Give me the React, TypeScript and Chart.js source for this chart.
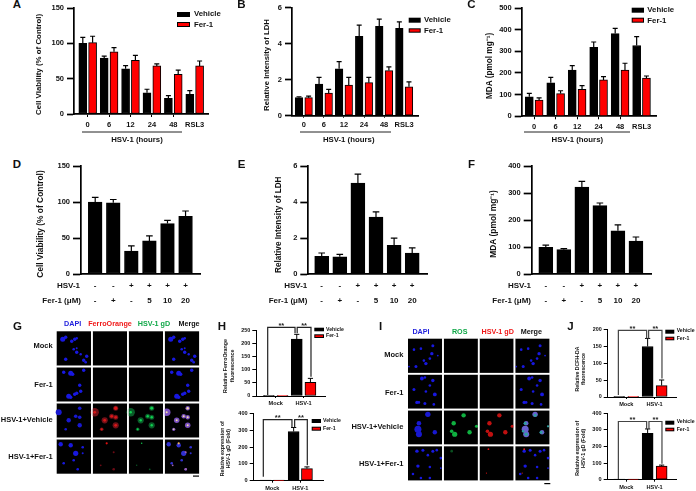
import React, { useEffect, useRef } from "react";
import { Chart, registerables } from "chart.js";
Chart.register(...registerables);

const FONT = '"Liberation Sans", Arial, sans-serif';
const RED = "#ff0000";

// ---------- data ----------
const hoursLabels = ["0", "6", "12", "24", "48", "RSL3"];
const aVehicle = [100, 79, 64, 30, 22, 28];
const aVehicleErr = [8.5, 3, 4.5, 5, 4, 5];
const aFer = [101, 88, 76, 68, 56, 68];
const aFerErr = [9, 6, 7, 3, 6, 7];
const bVehicle = [1.0, 1.75, 2.6, 4.4, 4.95, 4.85];
const bVehicleErr = [0.05, 0.37, 0.4, 0.62, 0.4, 0.35];
const bFer = [1.0, 1.25, 1.7, 1.83, 2.5, 1.6];
const bFerErr = [0.09, 0.21, 0.42, 0.29, 0.21, 0.28];
const cVehicle = [90, 155, 213, 318, 382, 327];
const cVehicleErr = [16, 25, 21, 25, 24, 41];
const cFer = [75, 105, 125, 168, 213, 177];
const cFerErr = [10, 13, 17, 15, 32, 9];

const hsvRow = ["-", "-", "+", "+", "+", "+"];
const ferRow = ["-", "+", "-", "5", "10", "20"];
const dValues = [100, 99, 32, 46, 70, 80];
const dErr = [6.5, 4.5, 7, 7, 4.5, 7.5];
const eValues = [1.0, 0.97, 5.05, 3.17, 1.6, 1.17];
const eErr = [0.18, 0.13, 0.5, 0.29, 0.4, 0.29];
const fValues = [99, 90, 322, 253, 160, 122];
const fErr = [8, 4, 21, 10, 22, 15];

const mockLabels = ["Mock", "HSV-1"];
const h1Vehicle = [0.5, 218];
const h1VehicleErr = [0, 18];
const h1Fer = [0.5, 52];
const h1FerErr = [0, 15.5];
const h2Vehicle = [0.5, 292];
const h2VehicleErr = [0, 24];
const h2Fer = [0.5, 72];
const h2FerErr = [0, 10];
const j1Vehicle = [2, 150];
const j1VehicleErr = [0, 24];
const j1Fer = [2, 34];
const j1FerErr = [0, 16.5];
const j2Vehicle = [1, 280];
const j2VehicleErr = [0, 26];
const j2Fer = [1, 82];
const j2FerErr = [0, 6];

// microscopy spots: [x, y, radius] in a cell of 36 units
type Blob = number[];
const gMock: Blob[] = [[6, 8, 2.5], [9, 6, 1.7], [18, 8, 1.7], [15, 10, 1.7], [20, 7, 1.3], [9, 28, 1.7], [20, 21, 1.7], [17, 18, 1.3], [27, 29, 1.7], [30, 25, 1.7], [29, 31, 1.3], [20, 17, 1], [24, 23, 1.2]];
const gFer: Blob[] = [[7, 5, 1.7], [14, 6, 2.5], [16, 7, 1.7], [27, 3, 1.7], [23, 18, 1.7], [24, 24, 1.7], [12, 29, 2.5], [14, 30, 1.7], [18, 27, 1.7], [20, 26, 1.7]];
const gVeh: Blob[] = [[2, 9, 3], [23, 5, 1.8], [12, 17, 2.2], [19, 13, 1.8], [23, 14, 1.8], [23, 22, 2.2], [9, 26, 1.3]];
const gVehCore: Blob[] = [[23, 5, 1.2], [12, 17, 1], [19, 13, 1], [23, 14, 1], [23, 22, 1], [9, 26, 0.8], [2, 9, 1]];
const gVfer: Blob[] = [[4, 5, 2.2], [14, 6, 2.2], [19, 14, 2.6], [26, 8, 1.3], [7, 24, 1.3], [17, 21, 1.3], [21, 30, 1.3], [26, 14, 1]];
const gVferRedBright: Blob[] = [[14, 4, 1.1]];
const gVferRedDim: Blob[] = [[21, 30, 1.3], [8, 26, 0.9], [21, 13, 1]];
const gVferGreenBright: Blob[] = [[13, 4, 0.7]];
const gVferGreenDim: Blob[] = [[8, 26, 0.7], [21, 30, 0.9]];
const iMock: Blob[] = [[6, 11, 1.3], [13, 10, 1.3], [25, 7, 1.5], [24, 15, 1.7], [22, 20, 1.3], [30, 17, 0.9], [18, 25, 1.7], [16, 22, 1.3], [8, 28, 1.5], [1, 28, 0.9]];
const iFer: Blob[] = [[14, 4, 1.9], [17, 3, 1.3], [25, 6, 1.7], [22, 11, 1.3], [6, 15, 1.5], [18, 17, 1.3], [27, 20, 1.9], [9, 28, 1.7], [11, 28, 1.3], [17, 29, 1.5], [26, 30, 1.3]];
const iVeh: Blob[] = [[20, 4, 2.7], [11, 13, 2.3], [10, 19, 3.5], [11, 24, 3], [27, 22, 2.2]];
const iVehSignal: Blob[] = [[20, 5, 2.2], [10, 13, 2.2], [8, 21, 1.8], [11, 24, 2.6], [26, 22, 2.2], [33, 16, 1.6]];
const iVfer: Blob[] = [[9, 5, 1.7], [15, 4, 1.5], [20, 9, 1.3], [25, 5, 1.5], [29, 4, 1.3], [33, 12, 1.3], [10, 20, 1.7], [22, 21, 1.3], [5, 28, 1.3], [13, 32, 1.3], [22, 32, 1.3], [33, 22, 0.9]];
const iVferGreen: Blob[] = [[8, 5, 1.3]];
const iVferRed: Blob[] = [[9, 3, 0.9], [7, 27, 0.6]];

// ---------- drawing spec ----------
type T = { t: string; x: number; y: number; s?: number; c?: string; a?: CanvasTextAlign; rot?: boolean; w?: string };
type Leg = { r0: number; r1: number; v: number[]; f: number[]; tx: number; vt: number; ft: number; s: number };
type Br = { x0: number; x1: number; y: number; yl: number; yr: number };
type Ser = { values: number[]; errs: number[]; color: string; off: number };
type Panel = {
  box: number[]; plot: number[]; yMax: number; yStep: number; yTick: number; yWidth: number; yFont: number;
  center: number; unit: number; labels: (string | string[])[]; xFont: number; xPad: number; xTick: number; xLineHeight?: number;
  series: Ser[]; barW: number; cap: number; errW: number; texts: T[]; lines?: number[][]; legend?: Leg; brackets?: Br[]; brColor?: string;
};

function drawText(ctx: CanvasRenderingContext2D, box: number[], it: T) {
  ctx.save();
  ctx.fillStyle = it.c || "#111";
  ctx.font = `${it.w || "bold"} ${it.s || 8}px ${FONT}`;
  ctx.textAlign = it.a || "center";
  ctx.textBaseline = "middle";
  ctx.translate(it.x - box[0], it.y - box[1]);
  if (it.rot) ctx.rotate(-Math.PI / 2);
  ctx.fillText(it.t, 0, 0);
  ctx.restore();
}

function overlay(p: Panel) {
  return {
    id: "overlay",
    afterDraw(chart: any) {
      const ctx: CanvasRenderingContext2D = chart.ctx;
      const xs = chart.scales.x, ys = chart.scales.y;
      ctx.save();
      ctx.strokeStyle = "#000";
      ctx.lineWidth = p.errW;
      p.series.forEach((s, si) => {
        const meta = chart.getDatasetMeta(si);
        s.errs.forEach((e, i) => {
          if (!e) return;
          const x = meta.data[i].x;
          const y0 = ys.getPixelForValue(s.values[i]);
          const y1 = ys.getPixelForValue(s.values[i] + e);
          ctx.beginPath();
          ctx.moveTo(x, y0); ctx.lineTo(x, y1);
          ctx.moveTo(x - p.cap, y1); ctx.lineTo(x + p.cap, y1);
          ctx.stroke();
        });
      });
      (p.brackets || []).forEach((b) => {
        const X0 = xs.getPixelForValue(b.x0), X1 = xs.getPixelForValue(b.x1);
        const Y = ys.getPixelForValue(b.y);
        ctx.strokeStyle = p.brColor || "#222";
        ctx.lineWidth = 1.2;
        ctx.beginPath();
        ctx.moveTo(X0, ys.getPixelForValue(b.yl));
        ctx.lineTo(X0, Y); ctx.lineTo(X1, Y);
        ctx.lineTo(X1, ys.getPixelForValue(b.yr));
        ctx.stroke();
        ctx.fillStyle = "#222";
        ctx.font = `bold 7.5px ${FONT}`;
        ctx.textAlign = "center";
        ctx.textBaseline = "middle";
        ctx.fillText("**", (X0 + X1) / 2, Y - 1.5);
      });
      (p.lines || []).forEach((l) => {
        ctx.strokeStyle = "#222";
        ctx.lineWidth = 1;
        ctx.beginPath();
        ctx.moveTo(l[0] - p.box[0], l[1] - p.box[1]);
        ctx.lineTo(l[2] - p.box[0], l[1] - p.box[1]);
        ctx.stroke();
      });
      if (p.legend) {
        const L = p.legend;
        ctx.fillStyle = "#000";
        ctx.fillRect(L.r0 - p.box[0], L.v[0] - p.box[1], L.r1 - L.r0, L.v[1] - L.v[0]);
        ctx.fillRect(L.r0 - p.box[0], L.f[0] - p.box[1], L.r1 - L.r0, L.f[1] - L.f[0]);
        ctx.fillStyle = RED;
        ctx.fillRect(L.r0 + 1 - p.box[0], L.f[0] + 1 - p.box[1], L.r1 - L.r0 - 2, L.f[1] - L.f[0] - 2);
        drawText(ctx, p.box, { t: "Vehicle", x: L.tx, y: L.vt, s: L.s, a: "left" });
        drawText(ctx, p.box, { t: "Fer-1", x: L.tx, y: L.ft, s: L.s, a: "left" });
      }
      p.texts.forEach((t) => drawText(ctx, p.box, t));
      ctx.restore();
    },
  };
}

function barConfig(p: Panel) {
  const [x0, y0, x1, y1] = p.box;
  const [l, t, r, b] = p.plot;
  return {
    type: "bar",
    data: {
      datasets: p.series.map((s) => ({
        data: s.values.map((v, i) => ({ x: i + s.off, y: v })),
        backgroundColor: s.color,
        borderColor: "#000",
        borderWidth: 1,
        borderSkipped: false,
        barThickness: p.barW,
        grouped: false,
      })),
    },
    options: {
      responsive: false,
      animation: false,
      events: [],
      layout: { padding: { top: t - y0, right: x1 - r, left: 0, bottom: 0 } },
      plugins: { legend: { display: false }, tooltip: { enabled: false } },
      scales: {
        x: {
          type: "linear",
          offset: false,
          min: (l - p.center) / p.unit,
          max: (r - p.center) / p.unit,
          afterFit: (s: any) => { s.height = y1 - b; },
          border: { display: true, width: p.yWidth, color: "#000" },
          grid: {
            offset: false,
            display: true, drawOnChartArea: false, drawTicks: p.xTick > 0, tickLength: p.xTick, tickWidth: 1,
            tickColor: (c: any) => (c.tick && c.tick.value === 5 ? "rgba(0,0,0,0)" : "#000"),
          },
          ticks: {
            stepSize: 1, includeBounds: false, autoSkip: false, maxRotation: 0, minRotation: 0, padding: p.xPad, color: "#111",
            font: { family: FONT, weight: "bold", size: p.xFont, lineHeight: p.xLineHeight || 1.2 },
            callback: (v: number) => p.labels[v] ?? "",
          },
        },
        y: {
          min: 0,
          max: p.yMax,
          afterFit: (s: any) => { s.width = l - x0; },
          border: { display: true, width: p.yWidth, color: "#000" },
          grid: { display: true, drawOnChartArea: false, drawTicks: true, tickLength: p.yTick, tickWidth: p.yWidth, tickColor: "#000" },
          ticks: { stepSize: p.yStep, padding: p.yTick > 5 ? 3 : 2, color: "#111", font: { family: FONT, weight: "bold", size: p.yFont } },
        },
      },
    },
    plugins: [overlay(p)],
  };
}

const two = (v: number[], ve: number[], f: number[], fe: number[], off: number): Ser[] => [
  { values: v, errs: ve, color: "#000", off: -off },
  { values: f, errs: fe, color: RED, off },
];
const one = (v: number[], e: number[]): Ser[] => [{ values: v, errs: e, color: "#000", off: 0 }];
const rows = hsvRow.map((h, i) => [h, ferRow[i]]);

const panels: Panel[] = [
  { box: [30, 0, 230, 150], plot: [74, 8, 208, 114], yMax: 150, yStep: 50, yTick: 7, yWidth: 1.7, yFont: 7.5, center: 87.7, unit: 21.4, labels: hoursLabels, xFont: 7.5, xPad: 3, xTick: 3, series: two(aVehicle, aVehicleErr, aFer, aFerErr, 0.229), barW: 8, cap: 2.5, errW: 1.2,
    texts: [{ t: "Cell Viability (% of Control)", x: 39, y: 64.5, s: 7.9, rot: true }, { t: "HSV-1 (hours)", x: 137, y: 140, s: 7.8 }], lines: [[82, 132, 182]],
    legend: { r0: 177, r1: 190, v: [12, 17], f: [22, 27], tx: 194, vt: 13.5, ft: 24.7, s: 7.8 } },
  { box: [258, 0, 460, 150], plot: [292, 7.3, 418, 115.7], yMax: 6, yStep: 2, yTick: 7, yWidth: 1.7, yFont: 7.5, center: 303.8, unit: 20.07, labels: hoursLabels, xFont: 7.5, xPad: 3, xTick: 2, series: two(bVehicle, bVehicleErr, bFer, bFerErr, 0.24), barW: 7.6, cap: 2.5, errW: 1.2,
    texts: [{ t: "Relative Intensity of LDH", x: 266.7, y: 65, s: 7.8, rot: true }, { t: "HSV-1 (hours)", x: 348.7, y: 139.7, s: 7.8 }], lines: [[300, 132, 391]],
    legend: { r0: 408.7, r1: 420.7, v: [17.7, 22.7], f: [28.3, 32.7], tx: 424, vt: 20, ft: 30.7, s: 7.8 } },
  { box: [482, 0, 696, 150], plot: [521.7, 8, 656, 116.3], yMax: 500, yStep: 100, yTick: 7, yWidth: 1.7, yFont: 7.5, center: 534.2, unit: 21.47, labels: hoursLabels, xFont: 7.5, xPad: 3, xTick: 3, series: two(cVehicle, cVehicleErr, cFer, cFerErr, 0.228), barW: 8, cap: 2.5, errW: 1.2,
    texts: [{ t: "MDA (pmol mg⁻¹)", x: 490, y: 66, s: 8.2, rot: true }, { t: "HSV-1 (hours)", x: 577.3, y: 139.7, s: 7.8 }], lines: [[524, 132, 630]],
    legend: { r0: 631.7, r1: 644, v: [7.7, 12.7], f: [17.7, 22.7], tx: 647.3, vt: 10, ft: 21, s: 7.8 } },
  { box: [30, 158, 230, 312], plot: [81, 166, 200, 274], yMax: 150, yStep: 50, yTick: 8, yWidth: 1.7, yFont: 7.5, center: 95.2, unit: 18.07, labels: rows, xFont: 8, xPad: 4, xTick: 0, xLineHeight: 1.9, series: one(dValues, dErr), barW: 13.7, cap: 3.3, errW: 1.2,
    texts: [{ t: "Cell Viability (% of Control)", x: 41, y: 224, s: 8.4, rot: true }, { t: "HSV-1", x: 80, y: 285.7, s: 8, a: "right" }, { t: "Fer-1 (μM)", x: 81, y: 301, s: 8, a: "right" }] },
  { box: [255, 158, 460, 312], plot: [308.3, 166, 427.3, 274.3], yMax: 6, yStep: 2, yTick: 8, yWidth: 1.7, yFont: 7.5, center: 321.7, unit: 18.1, labels: rows, xFont: 8, xPad: 4, xTick: 0, xLineHeight: 1.9, series: one(eValues, eErr), barW: 14, cap: 3.3, errW: 1.2,
    texts: [{ t: "Relative Intensity of LDH", x: 279, y: 224.7, s: 8.2, rot: true }, { t: "HSV-1", x: 307.3, y: 285.7, s: 8, a: "right" }, { t: "Fer-1 (μM)", x: 307.3, y: 301, s: 8, a: "right" }] },
  { box: [480, 158, 696, 312], plot: [531.7, 166, 651.3, 274], yMax: 400, yStep: 100, yTick: 8, yWidth: 1.7, yFont: 7.5, center: 545.8, unit: 18.03, labels: rows, xFont: 8, xPad: 4, xTick: 0, xLineHeight: 1.9, series: one(fValues, fErr), barW: 14, cap: 3.3, errW: 1.2,
    texts: [{ t: "MDA (pmol mg⁻¹)", x: 493.3, y: 224, s: 8.4, rot: true }, { t: "HSV-1", x: 531, y: 285.7, s: 8, a: "right" }, { t: "Fer-1 (μM)", x: 531, y: 301, s: 8, a: "right" }] },
  { box: [215, 316, 350, 408], plot: [256.3, 330.7, 325.7, 396], yMax: 250, yStep: 50, yTick: 4, yWidth: 1, yFont: 5.4, center: 275.7, unit: 27.9, labels: mockLabels, xFont: 5.6, xPad: 2, xTick: 2, series: two(h1Vehicle, h1VehicleErr, h1Fer, h1FerErr, 0.245), barW: 11, cap: 2.6, errW: 1,
    texts: [{ t: "Relative FerroOrange", x: 225.7, y: 366, s: 5.3, rot: true }, { t: "fluorescence", x: 232.3, y: 366, s: 5.3, rot: true }],
    brackets: [{ x0: -0.287, x1: 0.693, y: 263, yl: 4, yr: 240 }, { x0: 0.77, x1: 1.265, y: 263, yl: 240, yr: 74 }],
    legend: { r0: 314.3, r1: 324, v: [327.7, 331.3], f: [334.3, 338], tx: 326, vt: 329.3, ft: 336, s: 5.2 } },
  { box: [215, 408, 350, 491], plot: [253.7, 412.3, 323.3, 480.7], yMax: 400, yStep: 100, yTick: 4, yWidth: 1, yFont: 5.6, center: 272.3, unit: 28, labels: mockLabels, xFont: 5.6, xPad: 2, xTick: 2, series: two(h2Vehicle, h2VehicleErr, h2Fer, h2FerErr, 0.2375), barW: 11, cap: 2.6, errW: 1,
    texts: [{ t: "Relative expression of", x: 222.3, y: 448.7, s: 5.2, rot: true }, { t: "HSV-1 gD (Fold)", x: 228.3, y: 448.7, s: 5.2, rot: true }],
    brackets: [{ x0: -0.321, x1: 0.702, y: 363, yl: 23, yr: 316 }, { x0: 0.798, x1: 1.25, y: 363, yl: 316, yr: 92 }],
    legend: { r0: 311.7, r1: 321, v: [419, 423], f: [426.7, 430.7], tx: 323, vt: 421, ft: 428.7, s: 5.2 } },
  { box: [570, 316, 696, 408], plot: [607.7, 329.7, 676.7, 397], yMax: 200, yStep: 50, yTick: 4, yWidth: 1, yFont: 5.4, center: 626.3, unit: 28.33, labels: mockLabels, xFont: 5.6, xPad: 2, xTick: 2, series: two(j1Vehicle, j1VehicleErr, j1Fer, j1FerErr, 0.247), barW: 11, cap: 2.6, errW: 1,
    brColor: "#444",
    texts: [{ t: "Relative DCFH-DA", x: 577.3, y: 369, s: 5.2, rot: true }, { t: "fluorescence", x: 583.3, y: 369, s: 5.2, rot: true }],
    brackets: [{ x0: -0.28, x1: 0.718, y: 198, yl: 6, yr: 174 }, { x0: 0.788, x1: 1.259, y: 198, yl: 174, yr: 55 }],
    legend: { r0: 665.3, r1: 674.3, v: [329.7, 333.7], f: [336.7, 340.3], tx: 676.7, vt: 330.7, ft: 338.3, s: 5.2 } },
  { box: [570, 408, 696, 491], plot: [607.7, 411.7, 676.7, 479.7], yMax: 400, yStep: 100, yTick: 4, yWidth: 1, yFont: 5.6, center: 626.3, unit: 28.33, labels: mockLabels, xFont: 5.6, xPad: 2, xTick: 2, series: two(j2Vehicle, j2VehicleErr, j2Fer, j2FerErr, 0.247), barW: 11, cap: 2.6, errW: 1,
    brColor: "#444",
    texts: [{ t: "Relative expression of", x: 577.3, y: 448.3, s: 5.2, rot: true }, { t: "HSV-1 gD (Fold)", x: 583.3, y: 448.3, s: 5.2, rot: true }],
    brackets: [{ x0: -0.28, x1: 0.718, y: 351, yl: 4, yr: 306 }, { x0: 0.8, x1: 1.259, y: 351, yl: 306, yr: 96 }],
    legend: { r0: 665.3, r1: 674.3, v: [420.7, 424.7], f: [427.7, 431.3], tx: 676.7, vt: 422, ft: 429.3, s: 5.2 } },
];

// ---------- microscopy grids ----------
type Layer = { blobs: Blob[]; col: number; row: number; color: string; k?: number };
type Grid = { box: number[]; area: number[]; layers: Layer[]; texts: T[]; bar: number[] };
const BLUE = "#1818e0";
const layer = (blobs: Blob[], col: number, row: number, color: string, k = 1): Layer => ({ blobs, col, row, color, k });

const gLayers: Layer[] = [
  layer(gMock, 0, 0, BLUE), layer(gMock, 3, 0, BLUE),
  layer(gFer, 0, 1, BLUE), layer(gFer, 3, 1, BLUE),
  layer(gVeh, 0, 2, "#1818d0"), layer(gVeh, 1, 2, "#701018", 1.4), layer(gVehCore, 1, 2, "#d81818", 1.4),
  layer(gVeh, 2, 2, "#0a5a28", 1.4), layer(gVehCore, 2, 2, "#10d050", 1.2),
  layer(gVeh, 3, 2, "#7a50c0", 1.25), layer(gVehCore, 3, 2, "#f0d8a0"),
  layer(gVfer, 0, 3, BLUE), layer(gVferRedDim, 1, 3, "#6a0a14"), layer(gVferRedBright, 1, 3, "#e01010"),
  layer(gVferGreenDim, 2, 3, "#0a5a28"), layer(gVferGreenBright, 2, 3, "#10d050"),
  layer(gVfer, 3, 3, "#3030d0"), layer(gVferRedBright, 3, 3, "#f0b060"), layer(gVferRedDim, 3, 3, "#a060b0"),
];
const iLayers: Layer[] = [
  layer(iMock, 0, 0, BLUE), layer(iMock, 3, 0, BLUE),
  layer(iFer, 0, 1, BLUE), layer(iFer, 3, 1, BLUE),
  layer(iVeh, 0, 2, "#1818d0"), layer(iVehSignal, 1, 2, "#0fb040"), layer(iVehSignal, 2, 2, "#c01010"),
  layer(iVeh, 3, 2, "#6a60d0"), layer(iVehSignal, 3, 2, "#30a0a0", 0.7),
  layer(iVfer, 0, 3, BLUE), layer(iVferGreen, 1, 3, "#0a5020"), layer(iVferRed, 2, 3, "#e01010"),
  layer(iVfer, 3, 3, BLUE), layer(iVferRed, 3, 3, "#e02020"),
];

const rowNames = ["Mock", "Fer-1", "HSV-1+Vehicle", "HSV-1+Fer-1"];
const CELL = 34.4 / 36;

const grids: Grid[] = [
  { box: [0, 318, 205, 480], area: [56.7, 331.3, 200.7, 475.3], layers: gLayers, bar: [193, 199, 475.5],
    texts: [
      { t: "DAPI", x: 72.7, y: 324, s: 7.2, c: "#2222dd" }, { t: "FerroOrange", x: 110, y: 324, s: 7.2, c: "#f01818" },
      { t: "HSV-1 gD", x: 154, y: 324, s: 7.2, c: "#10a848" }, { t: "Merge", x: 189, y: 324, s: 7.2 },
      { t: rowNames[0], x: 52.7, y: 346, s: 7.5, a: "right" }, { t: rowNames[1], x: 52.7, y: 385, s: 7.5, a: "right" },
      { t: rowNames[2], x: 52.7, y: 420, s: 7.5, a: "right" }, { t: rowNames[3], x: 52.7, y: 456.7, s: 7.5, a: "right" },
    ] },
  { box: [350, 324, 555, 486], area: [408, 338.7, 552, 482.7], layers: iLayers, bar: [544.3, 550.3, 483],
    texts: [
      { t: "DAPI", x: 421, y: 331.7, s: 7.2, c: "#2222dd" }, { t: "ROS", x: 459.7, y: 331.7, s: 7.2, c: "#10a848" },
      { t: "HSV-1 gD", x: 497.7, y: 331.7, s: 7.2, c: "#f01818" }, { t: "Merge", x: 531.3, y: 331.7, s: 7.2 },
      { t: rowNames[0], x: 403.3, y: 355, s: 7.5, a: "right" }, { t: rowNames[1], x: 403.3, y: 392.7, s: 7.5, a: "right" },
      { t: rowNames[2], x: 403.3, y: 427, s: 7.5, a: "right" }, { t: rowNames[3], x: 403.3, y: 464, s: 7.5, a: "right" },
    ] },
];

function gridConfig(g: Grid) {
  const [x0, y0, x1, y1] = g.box;
  const [l, t, r, b] = g.area;
  const ds = g.layers.map((L) => ({
    data: L.blobs.map(([x, y, rad]) => ({ x: L.col + x / 36, y: L.row + y / 36, r: rad * (L.k || 1) })),
    backgroundColor: L.color,
    borderWidth: 0,
    clip: false as any,
  })).reverse();
  return {
    type: "bubble",
    data: { datasets: ds },
    options: {
      responsive: false,
      animation: false,
      events: [],
      layout: { padding: { left: l - x0, top: t - y0, right: x1 - r, bottom: y1 - b } },
      plugins: { legend: { display: false }, tooltip: { enabled: false } },
      scales: {
        x: { display: false, min: 0, max: 4 },
        y: { display: false, min: 0, max: 4, reverse: true },
      },
    },
    plugins: [{
      id: "cells",
      beforeDatasetsDraw(chart: any) {
        const ctx = chart.ctx, xs = chart.scales.x, ys = chart.scales.y;
        ctx.fillStyle = "#000";
        for (let c = 0; c < 4; c++) for (let w = 0; w < 4; w++) {
          const X = xs.getPixelForValue(c), Y = ys.getPixelForValue(w);
          ctx.fillRect(X, Y, xs.getPixelForValue(c + CELL) - X, ys.getPixelForValue(w + CELL) - Y);
        }
      },
      afterDraw(chart: any) {
        const ctx = chart.ctx;
        // white gutters so spots stay inside their cell
        const xs = chart.scales.x, ys = chart.scales.y;
        ctx.fillStyle = "#fff";
        for (let c = 1; c < 4; c++) {
          const X = xs.getPixelForValue(c - 1 + CELL);
          ctx.fillRect(X, t - y0, xs.getPixelForValue(c) - X, 36 * 4 - 1.6);
        }
        for (let w = 1; w < 4; w++) {
          const Y = ys.getPixelForValue(w - 1 + CELL);
          ctx.fillRect(l - x0, Y, 36 * 4 - 1.6, ys.getPixelForValue(w) - Y);
        }
        ctx.fillStyle = "#000";
        ctx.fillRect(g.bar[0] - x0, g.bar[2] - y0, g.bar[1] - g.bar[0], 1.2);
        g.texts.forEach((it) => drawText(ctx, g.box, it));
      },
    }],
  };
}

const letters: T[] = [
  { t: "A", x: 17, y: 5.5 }, { t: "B", x: 241.5, y: 5.5 }, { t: "C", x: 471.5, y: 5.5 },
  { t: "D", x: 17, y: 166 }, { t: "E", x: 241.5, y: 166 }, { t: "F", x: 471.5, y: 166 },
  { t: "G", x: 17.5, y: 327.5 }, { t: "H", x: 222, y: 327.5 }, { t: "I", x: 380.7, y: 327.5 }, { t: "J", x: 570.5, y: 327.5 },
];

function Canvas({ box, make }: { box: number[]; make: () => any }) {
  const ref = useRef<HTMLCanvasElement>(null);
  useEffect(() => {
    const chart = new Chart(ref.current as any, make());
    return () => chart.destroy();
  }, []);
  return (
    <canvas
      ref={ref}
      width={box[2] - box[0]}
      height={box[3] - box[1]}
      style={{ position: "absolute", left: box[0], top: box[1], width: box[2] - box[0], height: box[3] - box[1] }}
    />
  );
}

export default function App() {
  return (
    <div style={{ position: "absolute", left: 0, top: 0, width: 696, height: 491, overflow: "hidden", background: "#fff", filter: "blur(0.3px)" }}>
      {grids.map((g, i) => <Canvas key={"g" + i} box={g.box} make={() => gridConfig(g)} />)}
      {panels.map((p, i) => <Canvas key={"p" + i} box={p.box} make={() => barConfig(p)} />)}
      {letters.map((L) => (
        <div key={L.t} style={{ position: "absolute", left: L.x - 10, top: L.y - 8, width: 20, height: 16, lineHeight: "16px", textAlign: "center", font: `bold 11.5px ${FONT}`, color: "#111" }}>{L.t}</div>
      ))}
    </div>
  );
}
